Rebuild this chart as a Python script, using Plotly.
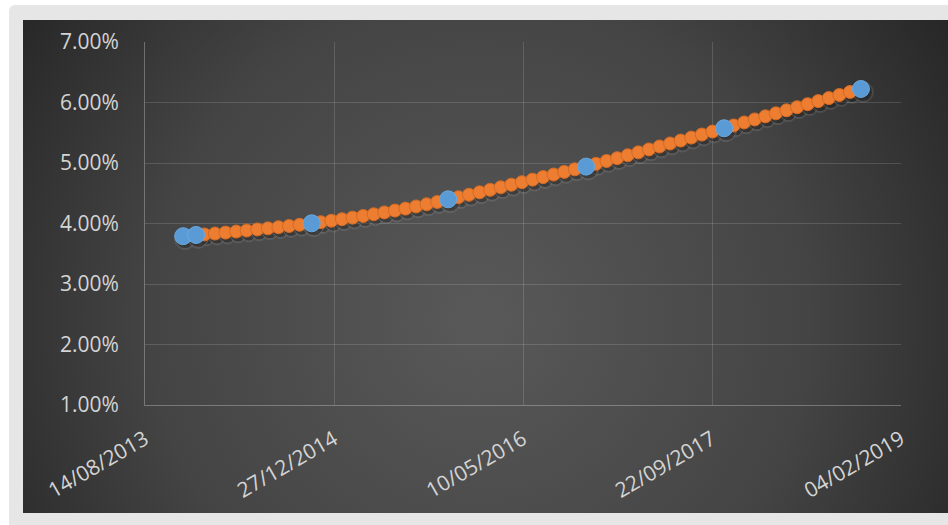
import base64
import pandas as pd
import plotly.graph_objects as go

# ---------------- data ----------------
orange_start = "2013-11-23"
orange_step_days = 28
orange_pct = [
    3.790, 3.804, 3.819, 3.834, 3.850, 3.867, 3.884, 3.902, 3.920, 3.939,
    3.959, 3.979, 4.000, 4.022, 4.046, 4.071, 4.097, 4.124, 4.153, 4.183,
    4.214, 4.246, 4.282, 4.318, 4.356, 4.395, 4.435, 4.475, 4.516, 4.557,
    4.599, 4.641, 4.683, 4.725, 4.767, 4.810, 4.853, 4.896, 4.940, 4.986,
    5.033, 5.080, 5.128, 5.176, 5.224, 5.273, 5.322, 5.371, 5.420, 5.470,
    5.520, 5.570, 5.620, 5.670, 5.720, 5.771, 5.821, 5.871, 5.922, 5.972,
    6.023, 6.073, 6.124, 6.174, 6.225,
]
blue_dates = ["2013-11-23", "2013-12-27", "2014-10-29", "2015-10-25",
              "2016-10-24", "2017-10-24", "2018-10-21"]
blue_pct = [3.790, 3.810, 4.003, 4.400, 4.940, 5.574, 6.223]

x_range = ["2013-08-14", "2019-02-04"]
x_tick_step_days = 500
y_range_pct = [1.0, 7.0]

# ---------------- derived ----------------
orange_dates = pd.date_range(orange_start, periods=len(orange_pct),
                             freq=f"{orange_step_days}D")
orange_y = [v / 100 for v in orange_pct]
blue_y = [v / 100 for v in blue_pct]

W, H = 948, 525
L, R, T, B = 145, 47, 42, 120

# background (frame + radial gradient) as svg image
svg = f'''<svg xmlns="http://www.w3.org/2000/svg" width="{W}" height="{H}" viewBox="0 0 {W} {H}">
<defs><radialGradient id="g" gradientUnits="userSpaceOnUse" cx="480" cy="320" r="600">
<stop offset="0" stop-color="#595959"/><stop offset="0.55" stop-color="#444444"/><stop offset="1" stop-color="#212121"/></radialGradient></defs>
<rect x="0" y="0" width="{W}" height="{H}" fill="#ffffff"/>
<rect x="9" y="5" width="{W}" height="{H}" rx="6" ry="6" fill="#e6e6e6"/>
<rect x="23" y="20" width="{W}" height="493" fill="url(#g)"/>
</svg>'''
src = "data:image/svg+xml;base64," + base64.b64encode(svg.encode()).decode()

pw, ph = W - L - R, H - T - B

# shadow offsets (pixels -> data units)
day_px = pw / ((pd.Timestamp(x_range[1]) - pd.Timestamp(x_range[0])).days)
shadow_dx = pd.Timedelta(days=2.0 / day_px)
shadow_dy = 3.0 / ph * (y_range_pct[1] - y_range_pct[0]) / 100

shadow_x = list(orange_dates + shadow_dx) + [pd.Timestamp(d) + shadow_dx for d in blue_dates]
shadow_y = [v - shadow_dy for v in orange_y] + [v - shadow_dy for v in blue_y]
shadow_s = [14] * len(orange_y) + [18] * len(blue_y)

fig = go.Figure()
for extra, op in [(3, 0.12), (1, 0.22)]:
    fig.add_trace(go.Scatter(
        x=shadow_x, y=shadow_y, mode="markers", opacity=op, hoverinfo="skip",
        marker=dict(size=[s + extra for s in shadow_s], color="#000000"),
        showlegend=False))
fig.add_trace(go.Scatter(
    x=orange_dates, y=orange_y, mode="markers", name="orange",
    marker=dict(size=13, color="#ED7D31", line=dict(width=1, color="#d36a22")),
    showlegend=False))
fig.add_trace(go.Scatter(
    x=blue_dates, y=blue_y, mode="markers", name="blue",
    marker=dict(size=17, color="#5B9BD5", line=dict(width=1, color="#6aa8df")),
    showlegend=False))

fig.add_layout_image(dict(
    source=src, xref="paper", yref="paper",
    x=-L / pw, y=(ph + T) / ph, sizex=W / pw, sizey=H / ph,
    sizing="stretch", xanchor="left", yanchor="top", layer="below"))

grid = "rgba(255,255,255,0.14)"
axline = "rgba(255,255,255,0.28)"
font = dict(family="Open Sans", size=21, color="#d4d4d4")

fig.update_layout(
    width=W, height=H,
    margin=dict(l=L, r=R, t=T, b=B, pad=0),
    paper_bgcolor="#ffffff", plot_bgcolor="rgba(0,0,0,0)",
    xaxis=dict(
        type="date", range=x_range, tick0=x_range[0],
        dtick=x_tick_step_days * 86400000, tickformat="%d/%m/%Y",
        tickangle=-30, showgrid=True, gridcolor=grid, gridwidth=1,
        showline=True, linecolor=axline, linewidth=1, zeroline=False,
        ticks="", tickfont=font, ticklabelstandoff=13),
    yaxis=dict(
        range=[y_range_pct[0] / 100, y_range_pct[1] / 100], dtick=0.01,
        tickformat=".2%", showgrid=True, gridcolor=grid, gridwidth=1,
        showline=True, linecolor=axline, linewidth=1, zeroline=False,
        ticks="", tickfont=font, ticklabelstandoff=21),
)

fig.write_html("out.html")
